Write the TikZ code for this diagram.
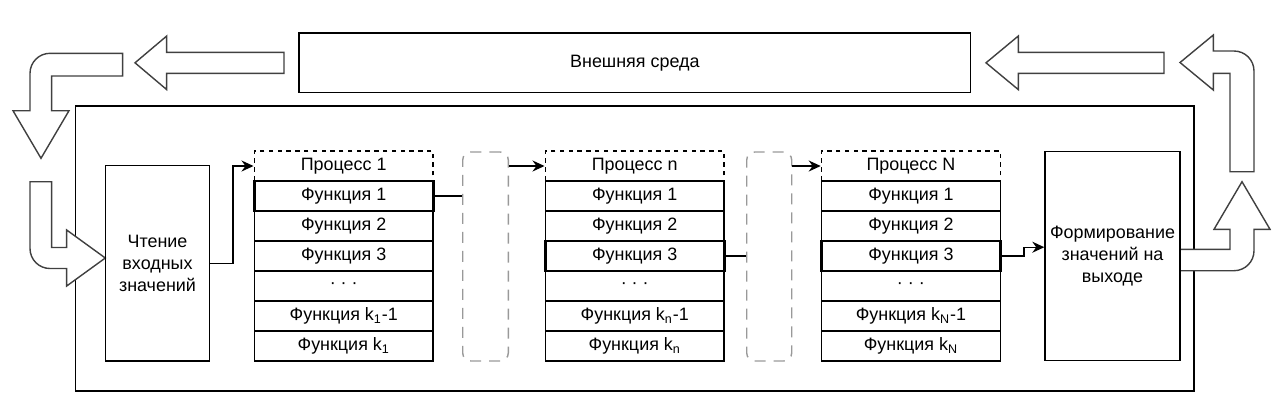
\documentclass[tikz,border=0pt]{standalone}
\usepackage{fontspec}
\setmainfont{Liberation Sans}
\usetikzlibrary{arrows.meta}

\begin{document}
\begin{tikzpicture}[x=0.02cm, y=0.02cm]
        \tikzstyle{every node}+=[inner sep=0pt, font=\fontsize{10.2}{12.6}\selectfont]
        \tikzstyle{plainbox}=[draw=black, line width=0.8pt]
        \tikzstyle{funcbox}=[plainbox, minimum width=3.58cm, minimum height=0.6cm]
        \tikzstyle{boldbox}=[funcbox, line width=1.6pt]
        \tikzstyle{headbox}=[funcbox, dash pattern=on 2.5pt off 2.5pt]
        \tikzstyle{gapbox}=[draw=black!40, line width=0.8pt, dash pattern=on 0.22cm off 0.16cm, rounded corners=0.16cm, minimum height=4.18cm]
        \tikzstyle{blockarrow}=[draw=black!75, fill=white, line width=0.8pt, line join=miter]
        \tikzstyle{link}=[draw=black, line width=0.8pt]
        \tikzstyle{linkarrow}=[link, -{Stealth[length=0.24cm, width=0.22cm]}]
        \useasboundingbox (0,0) rectangle (1287,-417);
        \node [plainbox, minimum width=13.434cm, minimum height=1.194cm] (env) at (634.85,-62.85) {Внешняя среда};
        \node [plainbox, minimum width=22.374cm, minimum height=5.7cm] (sys) at (634.65,-248.5) {};
        \draw [blockarrow] (284,-52.3) -- (166.7,-52.3) -- (166.7,-36) -- (135,-62.8) -- (166.7,-89.6) -- (166.7,-73.3) -- (284,-73.3) -- cycle;
        \draw [blockarrow] (1164,-52.3) -- (1018.3,-52.3) -- (1018.3,-36) -- (986,-62.8) -- (1018.3,-89.6) -- (1018.3,-73.3) -- (1164,-73.3) -- cycle;
        \draw [blockarrow] (122.7,-76) -- (51.7,-76) -- (51.7,-110.7) -- (69,-110.7) -- (41,-158.3) -- (13,-110.7) -- (30,-110.7) -- (30,-73.3) arc [start angle=180, end angle=90, radius=20] -- (122.7,-53.3) -- cycle;
        \draw [blockarrow] (30,-181.7) -- (51.7,-181.7) -- (51.7,-247.5) -- (66.7,-247.5) -- (66.7,-230) -- (105.3,-258) -- (66.7,-286) -- (66.7,-268.5) -- (50,-268.5) arc [start angle=270, end angle=180, radius=20] -- cycle;
        \draw [blockarrow] (1180,-249.3) -- (1230,-249.3) -- (1230,-229.3) -- (1214,-229.3) -- (1242,-181.7) -- (1270,-229.3) -- (1254,-229.3) -- (1254,-250.7) arc [start angle=0, end angle=-90, radius=20] -- (1180,-270.7) -- cycle;
        \draw [blockarrow] (1230,-171.7) -- (1254,-171.7) -- (1254,-71) arc [start angle=0, end angle=90, radius=20] -- (1213.3,-51) -- (1213.3,-35) -- (1180,-62.5) -- (1213.3,-90) -- (1213.3,-73.3) -- (1230,-73.3) -- cycle;
        \node [plainbox, minimum width=2.088cm, minimum height=3.906cm, align=center] (read) at (157.5,-263.3) {Чтение\\входных\\значений};
        \node [plainbox, minimum width=2.7cm, minimum height=4.18cm, align=center] (out) at (1112.5,-256.2) {Формирование\\значений на\\выходе};
        \node [headbox] (p1h) at (343.7,-166) {Процесс 1};
        \node [funcbox] (p1f2) at (343.7,-226) {Функция 2};
        \node [funcbox] (p1f3) at (343.7,-256) {Функция 3};
        \node [funcbox] (p1f4) at (343.7,-286) {· · ·};
        \node [funcbox] (p1f5) at (343.7,-316) {Функция k\textsubscript{1}-1};
        \node [funcbox] (p1f6) at (343.7,-346) {Функция k\textsubscript{1}};
        \node [boldbox] (p1f1) at (343.7,-196) {Функция 1};
        \node [gapbox, minimum width=0.912cm] (gap1) at (485.5,-256.5) {};
        \node [headbox] (pnh) at (634.7,-166) {Процесс n};
        \node [funcbox] (pnf1) at (634.7,-196) {Функция 1};
        \node [funcbox] (pnf2) at (634.7,-226) {Функция 2};
        \node [funcbox] (pnf4) at (634.7,-286) {· · ·};
        \node [funcbox] (pnf5) at (634.7,-316) {Функция k\textsubscript{n}-1};
        \node [funcbox] (pnf6) at (634.7,-346) {Функция k\textsubscript{n}};
        \node [boldbox] (pnf3) at (634.7,-256) {Функция 3};
        \node [gapbox, minimum width=0.9cm] (gap2) at (769.2,-256.5) {};
        \node [headbox] (pNh) at (910.9,-166) {Процесс N};
        \node [funcbox] (pNf1) at (910.9,-196) {Функция 1};
        \node [funcbox] (pNf2) at (910.9,-226) {Функция 2};
        \node [funcbox] (pNf4) at (910.9,-286) {· · ·};
        \node [funcbox] (pNf5) at (910.9,-316) {Функция k\textsubscript{N}-1};
        \node [funcbox] (pNf6) at (910.9,-346) {Функция k\textsubscript{N}};
        \node [boldbox] (pNf3) at (910.9,-256) {Функция 3};
        \draw [linkarrow] (read.east) -- ++(22.6,0) |- (p1h.west);
        \draw [link] (p1f1.east) -- (p1f1.east -| gap1.west);
        \draw [linkarrow] (gap1.east |- p1h.west) -- (pnh.west);
        \draw [link] (pnf3.east) -- (pnf3.east -| gap2.west);
        \draw [linkarrow] (gap2.east |- pnh.west) -- (pNh.west);
        \draw [linkarrow] (pNf3.east) -- ++(22,0) |- ([yshift=0.18cm]out.west);
    \end{tikzpicture}
\end{document}
